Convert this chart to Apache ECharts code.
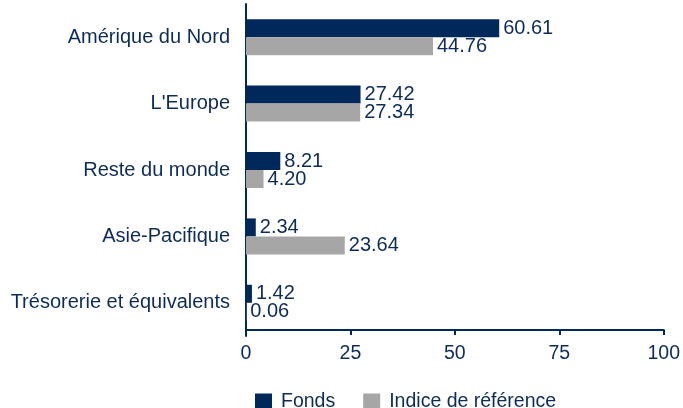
<!DOCTYPE html>
<html>
<head>
<meta charset="utf-8">
<script src="https://cdn.jsdelivr.net/npm/echarts@6/dist/echarts.min.js"></script>
<style>
  * { margin: 0; padding: 0; }
  #main { width: 683px; height: 408px; }
</style>
</head>
<body>
<div id="main"></div>
<script>
  var categories = ['Amérique du Nord', "L'Europe", 'Reste du monde', 'Asie-Pacifique', 'Trésorerie et équivalents'];
  var fonds = [60.61, 27.42, 8.21, 2.34, 1.42];
  var indice = [44.76, 27.34, 4.20, 23.64, 0.06];
  var xTicks = [0, 25, 50, 75, 100];

  var navy = '#00285a';
  var textColor = '#0d2b57';
  var grey = '#a6a6a6';
  var font = 'Liberation Sans, Arial, sans-serif';

  var chart = echarts.init(document.getElementById('main'));
  var valueLabel = {
    show: true,
    position: 'right',
    distance: 4,
    color: textColor,
    fontSize: 20,
    fontFamily: font,
    formatter: function (p) { return p.value.toFixed(2); }
  };
  chart.setOption({
    animation: false,
    grid: { left: 246, right: 19, top: 4, height: 332 },
    legend: {
      left: 250, top: 387,
      itemWidth: 17, itemHeight: 17, itemGap: 28,
      icon: 'rect',
      textStyle: { color: textColor, fontSize: 19.5, fontFamily: font, padding: [0, 0, 0, 4] },
      data: ['Fonds', 'Indice de référence']
    },
    xAxis: {
      type: 'value',
      min: xTicks[0], max: xTicks[xTicks.length - 1], interval: 25,
      offset: -6,
      splitLine: { show: false },
      axisLine: { show: true, lineStyle: { color: navy, width: 2 } },
      axisTick: { show: true, length: 5, lineStyle: { color: navy, width: 2 } },
      axisLabel: { color: textColor, fontSize: 19.5, fontFamily: font, margin: 14 }
    },
    yAxis: {
      type: 'category',
      inverse: true,
      data: categories,
      axisLine: { show: true, lineStyle: { color: navy, width: 2 } },
      axisTick: { show: false },
      axisLabel: { color: textColor, fontSize: 20, fontFamily: font, margin: 16 }
    },
    series: [
      { name: 'Fonds', type: 'bar', data: fonds, barWidth: 18, barGap: '0%',
        itemStyle: { color: navy }, label: valueLabel },
      { name: 'Indice de référence', type: 'bar', data: indice, barWidth: 18,
        itemStyle: { color: grey }, label: valueLabel }
    ]
  });
</script>
</body>
</html>
